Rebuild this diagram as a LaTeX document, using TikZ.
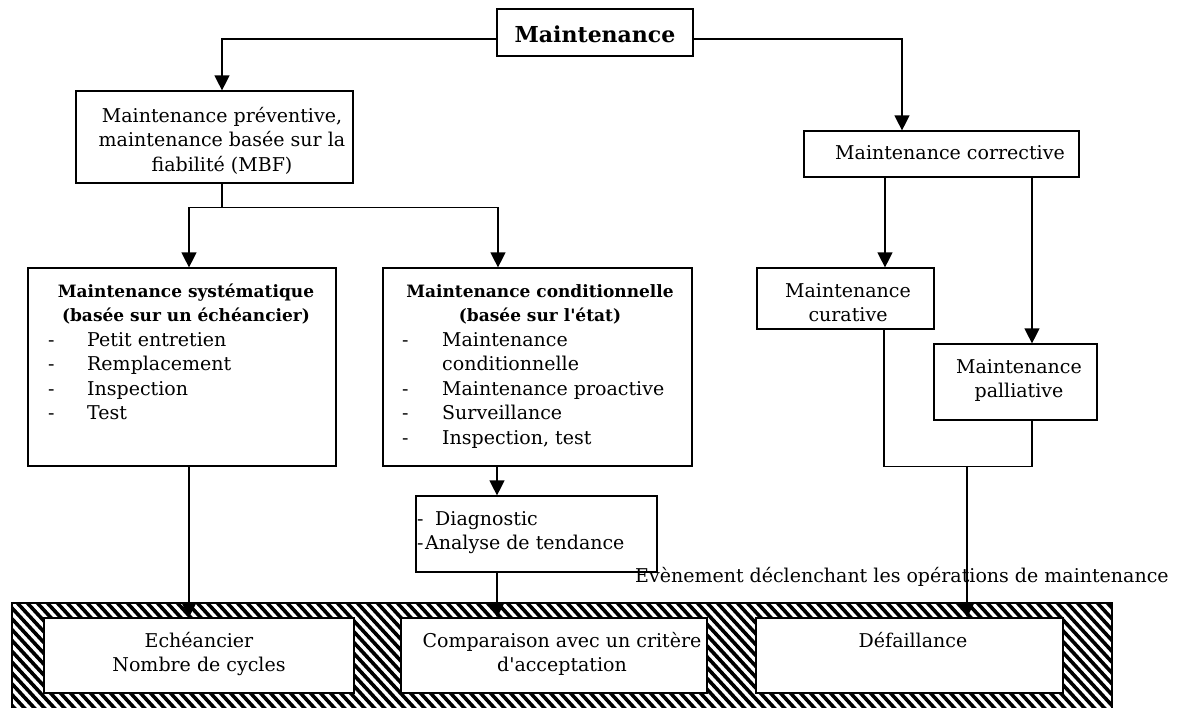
\documentclass[tikz,border=0pt]{standalone}
\usepackage{fontspec}
\setmainfont{DejaVu Serif}
\usetikzlibrary{arrows.meta}
\begin{document}
\begin{tikzpicture}[x=1pt,y=-1pt,
  box/.style={draw, line width=1.2pt, inner sep=0pt, fill=white},
  txt/.style={inner sep=0pt, anchor=north, align=center, font=\fontsize{19}{24.5}\selectfont},
  txtl/.style={txt, anchor=north west, align=left},
  head/.style={txt, font=\fontsize{17}{24.5}\selectfont\bfseries},
  link/.style={line width=1.3pt},
  arr/.style={link, -{Triangle[width=15pt,length=15pt]}},
  hatchline/.style={line width=3.6pt},
]
\clip (0,0) rectangle (1184,708);

% hatched band holding the triggering events
\begin{scope}
  \clip (12,603) rectangle (1112,720);
  \foreach \x in {-130,-120,...,1120}
    \draw[hatchline] (\x,595) -- ++(120,130);
\end{scope}
\draw[line width=1.5pt] (12,603) rectangle (1112,720);

% boxes
\node[box, minimum width=196pt, minimum height=47pt] (top)  at (595,32.5) {};
\node[box, minimum width=277pt, minimum height=92pt] (prev) at (214.5,137) {};
\node[box, minimum width=275pt, minimum height=46pt] (corr) at (941.5,154) {};
\node[box, minimum width=308pt, minimum height=198pt] (sys) at (182,367) {};
\node[box, minimum width=309pt, minimum height=198pt] (cond) at (537.5,367) {};
\node[box, minimum width=177pt, minimum height=61pt] (cur)  at (845.5,298.5) {};
\node[box, minimum width=163pt, minimum height=76pt] (pall) at (1015.5,382) {};
\node[box, minimum width=241pt, minimum height=76pt] (diag) at (536.5,534) {};
\node[box, minimum width=310pt, minimum height=75pt] (ech)  at (199,655.5) {};
\node[box, minimum width=306pt, minimum height=75pt] (comp) at (554,655.5) {};
\node[box, minimum width=307pt, minimum height=75pt] (def)  at (909.5,655.5) {};

% texts
\node[txt, font=\fontsize{22}{26}\selectfont\bfseries, anchor=base] (ttop) at (595,43) {Maintenance};
\node[txt] (tprev) at (222,104.85) {\strut Maintenance préventive,\\maintenance basée sur la\\fiabilité (MBF)};
\node[txt, anchor=base] (tcorr) at (950,160) {Maintenance corrective};
\node[head] (tsys) at (186,279.85) {\strut Maintenance systématique\\(basée sur un échéancier)};
\node[txtl] (lsys) at (48,328.85) {\strut\makebox[39pt][l]{-}Petit entretien\\\makebox[39pt][l]{-}Remplacement\\\makebox[39pt][l]{-}Inspection\\\makebox[39pt][l]{-}Test};
\node[head] (tcond) at (540,279.85) {\strut Maintenance conditionnelle\\(basée sur l\textquotesingle état)};
\node[txtl] (lcond) at (402,328.85) {\strut\makebox[40pt][l]{-}Maintenance\\\hspace*{40pt}conditionnelle\\\makebox[40pt][l]{-}Maintenance proactive\\\makebox[40pt][l]{-}Surveillance\\\makebox[40pt][l]{-}Inspection, test};
\node[txt] (tcur) at (848,279.85) {\strut Maintenance\\curative};
\node[txt] (tpall) at (1019,355.85) {\strut Maintenance\\palliative};
\node[txtl] (tdiag) at (417,507.85) {\strut\makebox[18pt][l]{-}Diagnostic\\\makebox[8pt][l]{-}Analyse de tendance};
\node[txt, anchor=base west] (event) at (635,582) {Evènement déclenchant les opérations de maintenance};
\node[txt] (tech) at (199,629.85) {\strut Echéancier\\Nombre de cycles};
\node[txt] (tcomp) at (562,629.85) {\strut Comparaison avec un critère\\d\textquotesingle acceptation};
\node[txt, anchor=base] (tdef) at (913,647) {Défaillance};

% connectors
\draw[arr] ([yshift=-6.5pt]top.west) -| ([xshift=7.5pt]prev.north);
\draw[arr] ([yshift=-6.5pt]top.east) -| ([xshift=-39.5pt]corr.north);
\draw[link] ([xshift=7.5pt]prev.south) -- ++(0,24) coordinate (split);
\draw[arr] (split) -| ([xshift=7pt]sys.north);
\draw[arr] (split) -| ([xshift=-39.5pt]cond.north);
\draw[arr] ([xshift=-56.5pt]corr.south) -- ([xshift=39.5pt]cur.north);
\draw[arr] ([xshift=90.5pt]corr.south) -- ([xshift=16.5pt]pall.north);
\draw[link] ([xshift=38.5pt]cur.south) |- ([xshift=16.5pt,yshift=-46pt]pall.south) -- ([xshift=16.5pt]pall.south);
\coordinate (merge) at (967,466);
\draw[arr] (merge) -- ([xshift=57.5pt]def.north);
\draw[arr] ([xshift=7pt]sys.south) -- ([xshift=-10pt]ech.north);
\draw[arr] ([xshift=-40.5pt]cond.south) -- ([xshift=-39.5pt]diag.north);
\draw[arr] ([xshift=-39.5pt]diag.south) -- ([xshift=-57pt]comp.north);
\end{tikzpicture}
\end{document}
